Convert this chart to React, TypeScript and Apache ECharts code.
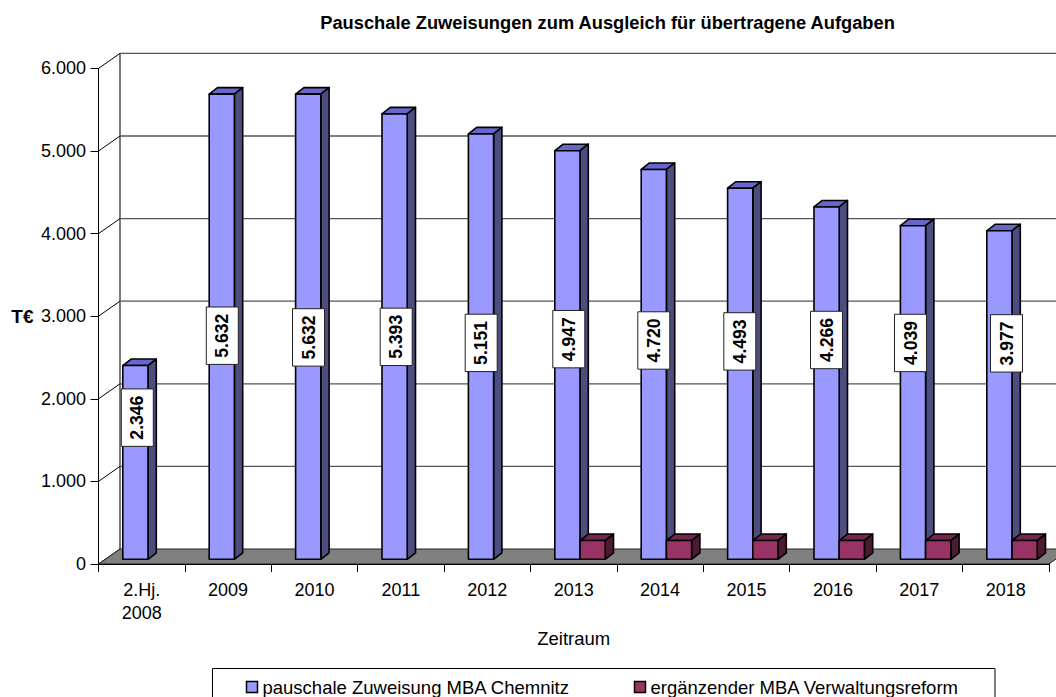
import React, { useEffect, useRef } from "react";
import * as echarts from "echarts";

const categories = ["2.Hj.\n2008", "2009", "2010", "2011", "2012", "2013", "2014", "2015", "2016", "2017", "2018"];
const pauschale = [2346, 5632, 5632, 5393, 5151, 4947, 4720, 4493, 4266, 4039, 3977];
const ergaenzend = [0, 0, 0, 0, 0, 227, 227, 227, 227, 227, 227];
const valueTicks = [0, 1000, 2000, 3000, 4000, 5000, 6000];
const seriesNames = ["pauschale Zuweisung MBA Chemnitz", "ergänzender MBA Verwaltungsreform"];
// where each value box sits, in axis units
const labelLevels = [1772, 2764, 2743, 2750, 2677, 2722, 2706, 2695, 2712, 2676, 2671];
const labelNudges = [-4.4, -5.8, -6, -4.7, -6.1, -4.9, -6.3, -6.7, -6.4, -8.8, 0.8];

const fmt = (v: number) => String(v).replace(/\B(?=(\d{3})+$)/, ".");

const FONT = '"Liberation Sans", Arial, sans-serif';
const DEPTH_X = 21.5;
const DEPTH_Y = -15;
const BAR_W = 25.2;
const BAR_DX = 8.3;
const BAR_DY = -6.5;
const BAR_INSET = -4.7;
const BLUE = { front: "#9999ff", top: "#6666cc", side: "#4d4d80" };
const RED = { front: "#993366", top: "#732650", side: "#4d1a33" };

function box(x0: number, x1: number, yTop: number, yBot: number, c: typeof BLUE) {
  const stroke = { stroke: "#000", lineWidth: 1.6, lineJoin: "round" };
  return [
    {
      type: "polygon",
      shape: { points: [[x0, yTop], [x1, yTop], [x1 + BAR_DX, yTop + BAR_DY], [x0 + BAR_DX, yTop + BAR_DY]] },
      style: { fill: c.top, ...stroke },
    },
    {
      type: "polygon",
      shape: { points: [[x1, yTop], [x1 + BAR_DX, yTop + BAR_DY], [x1 + BAR_DX, yBot + BAR_DY], [x1, yBot]] },
      style: { fill: c.side, ...stroke },
    },
    { type: "rect", shape: { x: x0, y: yTop, width: x1 - x0, height: yBot - yTop }, style: { fill: c.front, ...stroke } },
  ];
}

function barRender(colors: typeof BLUE, startOffset: number) {
  return (params: any, api: any) => {
    const i = api.value(0);
    const v = api.value(1);
    if (!v) return { type: "group", children: [] };
    const [cx, yTop] = api.coord([i, v]);
    const [, yBot] = api.coord([i, 0]);
    const x0 = cx + startOffset;
    return { type: "group", children: box(x0, x0 + BAR_W, yTop + BAR_INSET, yBot + BAR_INSET, colors) };
  };
}

export default function App() {
  const ref = useRef<HTMLDivElement>(null);
  useEffect(() => {
    const chart = echarts.init(ref.current!, null, { renderer: "svg" });
    const lastX = 1056 + 40;
    chart.setOption({
      animation: false,
      backgroundColor: "#fff",
      title: {
        text: "Pauschale Zuweisungen zum Ausgleich für übertragene Aufgaben",
        left: 602.5,
        top: 8,
        textAlign: "center",
        textStyle: { fontFamily: FONT, fontSize: 18.3, fontWeight: "bold", color: "#000" },
      },
      grid: { left: 98.5, top: 68.4, width: 950.4, height: 495.6, outerBoundsMode: "none" },
      xAxis: {
        type: "category",
        data: categories,
        name: "Zeitraum",
        nameLocation: "middle",
        nameGap: 59,
        nameTextStyle: { fontFamily: FONT, fontSize: 18.5, color: "#000" },
        axisLine: { show: true, lineStyle: { color: "#000", width: 1 } },
        axisTick: { show: true, length: 8, alignWithLabel: false, lineStyle: { color: "#000" } },
        axisLabel: { fontFamily: FONT, fontSize: 18, color: "#000", margin: 14, lineHeight: 23, interval: 0 },
        z: 10,
      },
      yAxis: {
        type: "value",
        min: 0,
        max: 6000,
        interval: 1000,
        name: "T€",
        nameLocation: "middle",
        nameRotate: 0,
        nameGap: 65,
        nameTextStyle: { fontFamily: FONT, fontSize: 19, fontWeight: "bold", color: "#000" },
        axisLine: { show: true, lineStyle: { color: "#000", width: 1 } },
        axisTick: { show: true, length: 8, lineStyle: { color: "#000" } },
        axisLabel: { fontFamily: FONT, fontSize: 18, color: "#000", margin: 12.5, formatter: (v: number) => fmt(v) },
        splitLine: { show: false },
      },
      legend: { show: false },
      graphic: [
        {
          type: "rect",
          z: 20,
          shape: { x: 212.5, y: 668.5, width: 782.5, height: 40 },
          style: { fill: "#fff", stroke: "#000", lineWidth: 1 },
        },
        { type: "rect", z: 21, shape: { x: 246.5, y: 681.5, width: 11, height: 11 }, style: { fill: BLUE.front, stroke: "#000", lineWidth: 1.5 } },
        { type: "text", z: 21, x: 262.5, y: 687, style: { text: seriesNames[0], font: `18.5px ${FONT}`, fill: "#000", textVerticalAlign: "middle" } },
        { type: "rect", z: 21, shape: { x: 634.5, y: 681.5, width: 11, height: 11 }, style: { fill: RED.front, stroke: "#000", lineWidth: 1.5 } },
        { type: "text", z: 21, x: 650.5, y: 687, style: { text: seriesNames[1], font: `18.5px ${FONT}`, fill: "#000", textVerticalAlign: "middle" } },
      ],
      series: [
        {
          type: "custom",
          name: "walls",
          z: 1,
          silent: true,
          data: valueTicks.map((t) => [t]),
          encode: { y: 0 },
          renderItem: (params: any, api: any) => {
            const t = api.value(0);
            const [x, y] = api.coord([0, t]);
            const left = x - 43.2;
            const children: any[] = [
              {
                type: "line",
                shape: { x1: left, y1: y, x2: left + DEPTH_X, y2: y + DEPTH_Y },
                style: { stroke: "#000", lineWidth: 1 },
              },
            ];
            if (t > 0) {
              children.push({
                type: "line",
                shape: { x1: left + DEPTH_X, y1: y + DEPTH_Y, x2: lastX, y2: y + DEPTH_Y },
                style: { stroke: "#555", lineWidth: 1.3 },
              });
            }
            if (t === 0) {
              const [, yTopWall] = api.coord([0, 6000]);
              children.unshift({
                type: "line",
                shape: { x1: left + DEPTH_X, y1: y + DEPTH_Y, x2: left + DEPTH_X, y2: yTopWall + DEPTH_Y },
                style: { stroke: "#333", lineWidth: 1.3 },
              });
              const right = left + 86.4 * categories.length;
              children.push({
                type: "polygon",
                shape: {
                  points: [
                    [left, y],
                    [right, y],
                    [right + DEPTH_X, y + DEPTH_Y],
                    [left + DEPTH_X, y + DEPTH_Y],
                  ],
                },
                style: { fill: "#808080", stroke: "#222", lineWidth: 1 },
              });
            }
            return { type: "group", children };
          },
        },
        {
          type: "custom",
          name: seriesNames[0],
          z: 3,
          data: pauschale.map((v, i) => [i, v]),
          encode: { x: 0, y: 1 },
          renderItem: barRender(BLUE, -18.9),
        },
        {
          type: "custom",
          name: seriesNames[1],
          z: 3,
          data: ergaenzend.map((v, i) => [i, v]),
          encode: { x: 0, y: 1 },
          renderItem: barRender(RED, 6.3),
        },
        {
          type: "custom",
          name: "labels",
          z: 5,
          data: pauschale.map((v, i) => [i, labelLevels[i], v]),
          encode: { x: 0, y: 1 },
          renderItem: (params: any, api: any) => {
            const i = api.value(0);
            const [cx, cy] = api.coord([i, api.value(1)]);
            const x = cx + labelNudges[i];
            return {
              type: "group",
              children: [
                {
                  type: "rect",
                  shape: { x: x - 16, y: cy - 28.7, width: 32, height: 57.4 },
                  style: { fill: "#fff", stroke: "#222", lineWidth: 1 },
                },
                {
                  type: "text",
                  x,
                  y: cy,
                  rotation: Math.PI / 2,
                  style: {
                    text: fmt(api.value(2)),
                    font: `bold 17.6px ${FONT}`,
                    fill: "#000",
                    textAlign: "center",
                    textVerticalAlign: "middle",
                  },
                },
              ],
            };
          },
        },
      ],
    });
    return () => chart.dispose();
  }, []);
  return (
    <div style={{ position: "fixed", left: 0, top: 0, width: 1056, height: 697, overflow: "hidden", background: "#fff" }}>
      <div ref={ref} style={{ width: 1056, height: 697 }} />
    </div>
  );
}
